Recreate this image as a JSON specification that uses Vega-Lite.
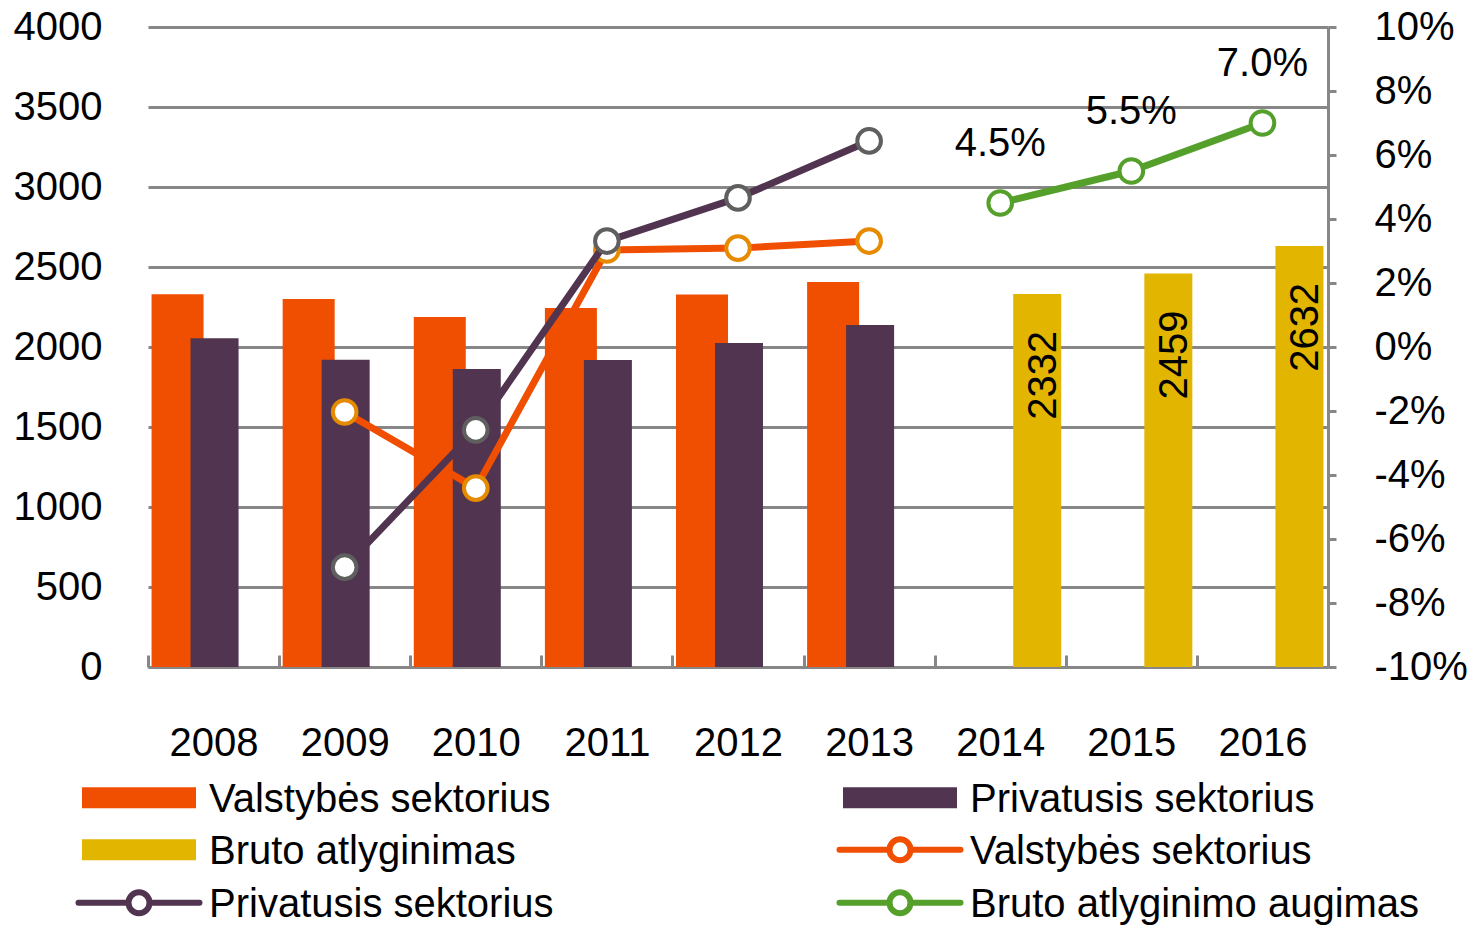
{
  "$schema": "https://vega.github.io/schema/vega-lite/v6.json",
  "width": 1180,
  "height": 640,
  "autosize": {"type": "none"},
  "padding": {"left": 148, "top": 27, "right": 141, "bottom": 260},
  "background": "white",
  "config": {
    "view": {"stroke": null},
    "font": "Liberation Sans",
    "axis": {"labelFont": "Liberation Sans", "labelFontSize": 40, "labelColor": "#000000", "title": null},
    "legend": {
      "orient": "none", "legendX": -29, "legendY": 753, "direction": "horizontal", "columns": 2, "columnPadding": 273, "rowPadding": 7,
      "labelFont": "Liberation Sans", "labelFontSize": 40, "labelColor": "#000000", "labelLimit": 800,
      "labelOffset": 50, "symbolSize": 100, "symbolStrokeWidth": 6
    }
  },
  "data": {
    "values": [
      {"year": "2008", "series": "Valstybės sektorius", "value": 2330},
      {"year": "2009", "series": "Valstybės sektorius", "value": 2300},
      {"year": "2010", "series": "Valstybės sektorius", "value": 2188},
      {"year": "2011", "series": "Valstybės sektorius", "value": 2244},
      {"year": "2012", "series": "Valstybės sektorius", "value": 2328},
      {"year": "2013", "series": "Valstybės sektorius", "value": 2406},
      {"year": "2008", "series": "Privatusis sektorius", "value": 2055},
      {"year": "2009", "series": "Privatusis sektorius", "value": 1920},
      {"year": "2010", "series": "Privatusis sektorius", "value": 1863},
      {"year": "2011", "series": "Privatusis sektorius", "value": 1919},
      {"year": "2012", "series": "Privatusis sektorius", "value": 2025},
      {"year": "2013", "series": "Privatusis sektorius", "value": 2138},
      {"year": "2014", "series": "Bruto atlyginimas", "value": 2332},
      {"year": "2015", "series": "Bruto atlyginimas", "value": 2459},
      {"year": "2016", "series": "Bruto atlyginimas", "value": 2632},
      {"year": "2009", "series": "Valstybės sektorius (augimas)", "value": -0.0203},
      {"year": "2010", "series": "Valstybės sektorius (augimas)", "value": -0.0441},
      {"year": "2011", "series": "Valstybės sektorius (augimas)", "value": 0.0303},
      {"year": "2012", "series": "Valstybės sektorius (augimas)", "value": 0.0309},
      {"year": "2013", "series": "Valstybės sektorius (augimas)", "value": 0.0331},
      {"year": "2009", "series": "Privatusis sektorius (augimas)", "value": -0.0688},
      {"year": "2010", "series": "Privatusis sektorius (augimas)", "value": -0.0259},
      {"year": "2011", "series": "Privatusis sektorius (augimas)", "value": 0.0331},
      {"year": "2012", "series": "Privatusis sektorius (augimas)", "value": 0.0466},
      {"year": "2013", "series": "Privatusis sektorius (augimas)", "value": 0.0644},
      {"year": "2014", "series": "Bruto atlyginimo augimas", "value": 0.045},
      {"year": "2015", "series": "Bruto atlyginimo augimas", "value": 0.055},
      {"year": "2016", "series": "Bruto atlyginimo augimas", "value": 0.07}
    ]
  },
  "resolve": {"scale": {"y": "independent"}},
  "layer": [
    {
      "encoding": {
        "x": {
          "field": "year", "type": "ordinal",
          "scale": {"domain": ["2008","2009","2010","2011","2012","2013","2014","2015","2016"], "paddingInner": 0, "paddingOuter": 0},
          "axis": {
            "orient": "bottom", "labelAngle": 0, "domain": true, "domainColor": "#878787", "domainWidth": 3,
            "ticks": true, "tickBand": "extent", "tickColor": "#878787", "tickWidth": 3, "tickSize": -12,
            "labelPadding": 88, "labelBaseline": "middle", "grid": false
          }
        },
        "y": {
          "field": "value", "type": "quantitative",
          "scale": {"domain": [0, 4000], "nice": false, "zero": true},
          "axis": {
            "orient": "left", "values": [0,500,1000,1500,2000,2500,3000,3500,4000], "format": "d",
            "domain": false, "ticks": false, "grid": true, "gridColor": "#878787", "gridWidth": 3,
            "labelPadding": 46, "labelBaseline": "middle"
          }
        }
      },
      "layer": [
        {
          "transform": [{"filter": "datum.series === 'Valstybės sektorius'"}],
          "mark": {"type": "bar", "width": 52, "xOffset": -36},
          "encoding": {
            "color": {
              "field": "series", "type": "nominal",
              "scale": {
                "domain": ["Valstybės sektorius","Privatusis sektorius","Bruto atlyginimas","Valstybės sektorius (augimas)","Privatusis sektorius (augimas)","Bruto atlyginimo augimas"],
                "range": ["#F04E00","#51344F","#E1B500","#F04E00","#51344F","#55A02B"]
              },
              "legend": {
                "title": null,
                "labelExpr": "replace(datum.label, ' (augimas)', '')",
                "encode": {"symbols": {"update": {
                  "shape": {"signal": "indexof(datum.value, 'augim') >= 0 ? 'M-12.1,-0.45H-2.1M2.1,-0.45H12.1M2.1,-0.45A2.1,2.1 0 1,1 -2.1,-0.45A2.1,2.1 0 1,1 2.1,-0.45Z' : 'M-11.4,-2.55H11.4V1.65H-11.4Z'"},
                  "fillOpacity": {"signal": "indexof(datum.value, 'augim') >= 0 ? 0 : 1"},
                  "strokeOpacity": {"signal": "indexof(datum.value, 'augim') >= 0 ? 1 : 0"},
                  "strokeWidth": {"value": 6}, "strokeCap": {"value": "round"}, "size": {"value": 100}
                }}}
              }
            }
          }
        },
        {
          "transform": [{"filter": "datum.series === 'Privatusis sektorius'"}],
          "mark": {"type": "bar", "width": 48, "xOffset": 1},
          "encoding": {"color": {"field": "series", "type": "nominal",
              "legend": {
                "title": null,
                "labelExpr": "replace(datum.label, ' (augimas)', '')",
                "encode": {"symbols": {"update": {
                  "shape": {"signal": "indexof(datum.value, 'augim') >= 0 ? 'M-12.1,-0.45H-2.1M2.1,-0.45H12.1M2.1,-0.45A2.1,2.1 0 1,1 -2.1,-0.45A2.1,2.1 0 1,1 2.1,-0.45Z' : 'M-11.4,-2.55H11.4V1.65H-11.4Z'"},
                  "fillOpacity": {"signal": "indexof(datum.value, 'augim') >= 0 ? 0 : 1"},
                  "strokeOpacity": {"signal": "indexof(datum.value, 'augim') >= 0 ? 1 : 0"},
                  "strokeWidth": {"value": 6}, "strokeCap": {"value": "round"}, "size": {"value": 100}
                }}}
              }}}
        },
        {
          "transform": [{"filter": "datum.series === 'Bruto atlyginimas'"}],
          "mark": {"type": "bar", "width": 48, "xOffset": 37},
          "encoding": {"color": {"field": "series", "type": "nominal",
              "legend": {
                "title": null,
                "labelExpr": "replace(datum.label, ' (augimas)', '')",
                "encode": {"symbols": {"update": {
                  "shape": {"signal": "indexof(datum.value, 'augim') >= 0 ? 'M-12.1,-0.45H-2.1M2.1,-0.45H12.1M2.1,-0.45A2.1,2.1 0 1,1 -2.1,-0.45A2.1,2.1 0 1,1 2.1,-0.45Z' : 'M-11.4,-2.55H11.4V1.65H-11.4Z'"},
                  "fillOpacity": {"signal": "indexof(datum.value, 'augim') >= 0 ? 0 : 1"},
                  "strokeOpacity": {"signal": "indexof(datum.value, 'augim') >= 0 ? 1 : 0"},
                  "strokeWidth": {"value": 6}, "strokeCap": {"value": "round"}, "size": {"value": 100}
                }}}
              }}}
        },
        {
          "transform": [{"filter": "datum.series === 'Bruto atlyginimas'"}],
          "mark": {"type": "text", "angle": 270, "align": "right", "baseline": "middle", "dx": -37, "dy": 7, "xOffset": 37, "font": "Liberation Sans", "fontSize": 40, "color": "#000000"},
          "encoding": {"text": {"field": "value", "type": "quantitative", "format": "d"}}
        }
      ]
    },
    {
      "encoding": {
        "x": {"field": "year", "type": "ordinal"},
        "y": {
          "field": "value", "type": "quantitative",
          "scale": {"domain": [-0.1, 0.1], "nice": false, "zero": false},
          "axis": {
            "orient": "right", "values": [-0.1,-0.08,-0.06,-0.04,-0.02,0,0.02,0.04,0.06,0.08,0.1], "format": ".0%",
            "labelExpr": "replace(datum.label, '−', '-')",
            "domain": true, "domainColor": "#878787", "domainWidth": 3,
            "ticks": true, "tickColor": "#878787", "tickWidth": 3, "tickSize": 8,
            "grid": false, "labelAlign": "left", "labelBaseline": "middle", "labelPadding": 38
          }
        }
      },
      "layer": [
        {
          "transform": [{"filter": "datum.series === 'Valstybės sektorius (augimas)'"}],
          "mark": {"type": "line", "strokeWidth": 7, "strokeJoin": "round"},
          "encoding": {"color": {"field": "series", "type": "nominal",
              "legend": {
                "title": null,
                "labelExpr": "replace(datum.label, ' (augimas)', '')",
                "encode": {"symbols": {"update": {
                  "shape": {"signal": "indexof(datum.value, 'augim') >= 0 ? 'M-12.1,-0.45H-2.1M2.1,-0.45H12.1M2.1,-0.45A2.1,2.1 0 1,1 -2.1,-0.45A2.1,2.1 0 1,1 2.1,-0.45Z' : 'M-11.4,-2.55H11.4V1.65H-11.4Z'"},
                  "fillOpacity": {"signal": "indexof(datum.value, 'augim') >= 0 ? 0 : 1"},
                  "strokeOpacity": {"signal": "indexof(datum.value, 'augim') >= 0 ? 1 : 0"},
                  "strokeWidth": {"value": 6}, "strokeCap": {"value": "round"}, "size": {"value": 100}
                }}}
              }}}
        },
        {
          "transform": [{"filter": "datum.series === 'Valstybės sektorius (augimas)'"}],
          "mark": {"type": "point", "shape": "circle", "filled": false, "fill": "#ffffff", "stroke": "#E68A00", "strokeWidth": 4, "size": 560, "opacity": 1, "fillOpacity": 1}
        },
        {
          "transform": [{"filter": "datum.series === 'Privatusis sektorius (augimas)'"}],
          "mark": {"type": "line", "strokeWidth": 7, "strokeJoin": "round"},
          "encoding": {"color": {"field": "series", "type": "nominal",
              "legend": {
                "title": null,
                "labelExpr": "replace(datum.label, ' (augimas)', '')",
                "encode": {"symbols": {"update": {
                  "shape": {"signal": "indexof(datum.value, 'augim') >= 0 ? 'M-12.1,-0.45H-2.1M2.1,-0.45H12.1M2.1,-0.45A2.1,2.1 0 1,1 -2.1,-0.45A2.1,2.1 0 1,1 2.1,-0.45Z' : 'M-11.4,-2.55H11.4V1.65H-11.4Z'"},
                  "fillOpacity": {"signal": "indexof(datum.value, 'augim') >= 0 ? 0 : 1"},
                  "strokeOpacity": {"signal": "indexof(datum.value, 'augim') >= 0 ? 1 : 0"},
                  "strokeWidth": {"value": 6}, "strokeCap": {"value": "round"}, "size": {"value": 100}
                }}}
              }}}
        },
        {
          "transform": [{"filter": "datum.series === 'Privatusis sektorius (augimas)'"}],
          "mark": {"type": "point", "shape": "circle", "filled": false, "fill": "#ffffff", "stroke": "#5F5F5F", "strokeWidth": 4, "size": 560, "opacity": 1, "fillOpacity": 1}
        },
        {
          "transform": [{"filter": "datum.series === 'Bruto atlyginimo augimas'"}],
          "mark": {"type": "line", "strokeWidth": 7, "strokeJoin": "round"},
          "encoding": {"color": {"field": "series", "type": "nominal",
              "legend": {
                "title": null,
                "labelExpr": "replace(datum.label, ' (augimas)', '')",
                "encode": {"symbols": {"update": {
                  "shape": {"signal": "indexof(datum.value, 'augim') >= 0 ? 'M-12.1,-0.45H-2.1M2.1,-0.45H12.1M2.1,-0.45A2.1,2.1 0 1,1 -2.1,-0.45A2.1,2.1 0 1,1 2.1,-0.45Z' : 'M-11.4,-2.55H11.4V1.65H-11.4Z'"},
                  "fillOpacity": {"signal": "indexof(datum.value, 'augim') >= 0 ? 0 : 1"},
                  "strokeOpacity": {"signal": "indexof(datum.value, 'augim') >= 0 ? 1 : 0"},
                  "strokeWidth": {"value": 6}, "strokeCap": {"value": "round"}, "size": {"value": 100}
                }}}
              }}}
        },
        {
          "transform": [{"filter": "datum.series === 'Bruto atlyginimo augimas'"}],
          "mark": {"type": "point", "shape": "circle", "filled": false, "fill": "#ffffff", "stroke": "#55A02B", "strokeWidth": 4, "size": 560, "opacity": 1, "fillOpacity": 1}
        },
        {
          "transform": [{"filter": "datum.series === 'Bruto atlyginimo augimas'"}],
          "mark": {"type": "text", "align": "center", "baseline": "middle", "dy": -59, "font": "Liberation Sans", "fontSize": 40, "color": "#000000"},
          "encoding": {"text": {"field": "value", "type": "quantitative", "format": ".1%"}}
        }
      ]
    }
  ]
}
